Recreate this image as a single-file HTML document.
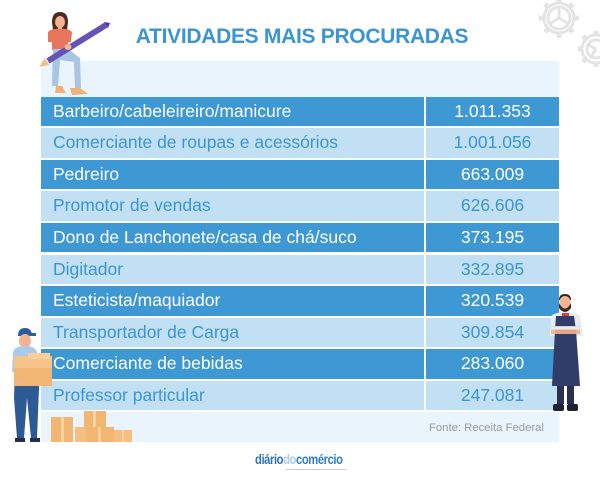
<!DOCTYPE html>
<html>
<head>
<meta charset="utf-8">
<style>
  html,body{margin:0;padding:0;background:#fff;}
  #c{position:relative;width:600px;height:480px;overflow:hidden;background:#fff;font-family:"Liberation Sans",Arial,sans-serif;}
  .title{position:absolute;left:0;width:604px;top:24px;text-align:center;font-weight:bold;font-size:21px;letter-spacing:-0.3px;color:#3a95d2;line-height:26px;}
  .pale{position:absolute;left:41px;width:518px;background:#eaf4fc;}
  .row{position:absolute;left:41px;width:518px;height:29.6px;}
  .row .l,.row .r{position:absolute;top:0;height:29.6px;line-height:29.6px;font-size:17.5px;}
  .row .l{left:0;width:383px;padding-left:12px;box-sizing:border-box;}
  .row .r{left:385px;width:133px;text-align:center;}
  .d .l,.d .r{background:#3d98d4;color:#fff;}
  .w .l,.w .r{background:#c1e0f4;color:#3d95d2;}
  .fonte{position:absolute;left:429px;top:420px;font-size:11.3px;color:#9a9a9a;line-height:16px;}
  .logo{position:absolute;left:255px;top:451px;font-weight:bold;font-size:14px;letter-spacing:-0.5px;line-height:16px;transform:scaleX(0.8);transform-origin:left top;white-space:nowrap;}
  svg{position:absolute;left:0;top:0;}
</style>
</head>
<body>
<div id="c">
  <svg width="600" height="480" viewBox="0 0 600 480">
    <!-- gears -->
    <g fill="none" stroke="#e4e4e4" stroke-width="3">
      <circle cx="559" cy="18" r="15"/>
      <circle cx="559" cy="18" r="11"/>
      <line x1="559" y1="18" x2="559" y2="7"/>
      <line x1="559" y1="18" x2="549" y2="24"/>
      <line x1="559" y1="18" x2="569" y2="24"/>
    </g>
    <g stroke="#e4e4e4" stroke-width="5">
      <line x1="559" y1="-2" x2="559" y2="2"/>
      <line x1="559" y1="34" x2="559" y2="38"/>
      <line x1="539" y1="18" x2="543" y2="18"/>
      <line x1="575" y1="18" x2="579" y2="18"/>
      <line x1="545" y1="4" x2="548" y2="7"/>
      <line x1="570" y1="29" x2="573" y2="32"/>
      <line x1="545" y1="32" x2="548" y2="29"/>
      <line x1="570" y1="7" x2="573" y2="4"/>
    </g>
    <g fill="none" stroke="#e4e4e4" stroke-width="3">
      <circle cx="596" cy="49" r="14"/>
      <circle cx="596" cy="49" r="9"/>
      <line x1="596" y1="49" x2="587" y2="44"/>
      <line x1="596" y1="49" x2="590" y2="58"/>
    </g>
    <g stroke="#e4e4e4" stroke-width="5">
      <line x1="578" y1="49" x2="582" y2="49"/>
      <line x1="596" y1="31" x2="596" y2="35"/>
      <line x1="596" y1="63" x2="596" y2="67"/>
      <line x1="583" y1="36" x2="586" y2="39"/>
      <line x1="583" y1="62" x2="586" y2="59"/>
    </g>
  </svg>

  <div class="title">ATIVIDADES MAIS PROCURADAS</div>

  <div class="pale" style="top:61px;height:35.5px;"></div>
  <div class="pale" style="top:412px;height:30px;"></div>

  <div class="row d" style="top:96.5px"><div class="l">Barbeiro/cabeleireiro/manicure</div><div class="r">1.011.353</div></div>
  <div class="row w" style="top:128.1px"><div class="l">Comerciante de roupas e acessórios</div><div class="r">1.001.056</div></div>
  <div class="row d" style="top:159.7px"><div class="l">Pedreiro</div><div class="r">663.009</div></div>
  <div class="row w" style="top:191.3px"><div class="l">Promotor de vendas</div><div class="r">626.606</div></div>
  <div class="row d" style="top:222.9px"><div class="l">Dono de Lanchonete/casa de chá/suco</div><div class="r">373.195</div></div>
  <div class="row w" style="top:254.5px"><div class="l">Digitador</div><div class="r">332.895</div></div>
  <div class="row d" style="top:286.1px"><div class="l">Esteticista/maquiador</div><div class="r">320.539</div></div>
  <div class="row w" style="top:317.7px"><div class="l">Transportador de Carga</div><div class="r">309.854</div></div>
  <div class="row d" style="top:349.3px"><div class="l">Comerciante de bebidas</div><div class="r">283.060</div></div>
  <div class="row w" style="top:380.9px"><div class="l">Professor particular</div><div class="r">247.081</div></div>

  <div class="fonte">Fonte: Receita Federal</div>

  <div class="logo"><span style="color:#2f72b8">diário</span><span style="color:#a9d0ee">do</span><span style="color:#2f7fc6">comércio</span></div>
  <div style="position:absolute;left:286px;top:469px;width:60px;height:1px;background:#c8c8c8;"></div>

  <svg width="600" height="480" viewBox="0 0 600 480">
    <!-- woman with pencil -->
    <path d="M52 22 Q52 12 60 12 Q68 12 68 22 L67 30 L53 30 Z" fill="#4a2a22"/>
    <ellipse cx="60" cy="22" rx="5" ry="6" fill="#f2b48e"/>
    <rect x="58" y="27" width="4" height="3" fill="#f2b48e"/>
    <path d="M48 32 Q52 28 60 29 Q68 28 72 32 L71 42 L68 42 L68 50 L52 50 L52 42 L48 42 Z" fill="#e8745b"/>
    <path d="M53 49 L68 49 L80 58 L81 88 L75 89 L74 62 L60 60 L58 86 L52 86 Z" fill="#a8c5e3"/>
    <path d="M70 88 L80 88 L88 94 L72 95 Z" fill="#f0b078"/>
    <path d="M56 86 L62 86 L66 93 L55 93 Z" fill="#f0b078"/>
    <line x1="48" y1="61" x2="106" y2="25" stroke="#6652b6" stroke-width="6" stroke-linecap="butt"/>
    <polygon points="45,58 49,65 39,67" fill="#edc38c"/>
    <polygon points="104,22 108,28 110,23" fill="#4b3c99"/>
    <ellipse cx="68" cy="47" rx="3.5" ry="3" fill="#f2b48e"/>

    <!-- worker with box -->
    <path d="M18 336 Q18 328 25 328 Q32 328 32 336 Z" fill="#2b5c9e"/>
    <rect x="30" y="333" width="6" height="3" fill="#2b5c9e"/>
    <ellipse cx="25" cy="341" rx="6" ry="7" fill="#f2b48e"/>
    <path d="M13 352 Q15 346 25 346 Q35 346 37 352 L38 372 L12 372 Z" fill="#a9cbe9"/>
    <path d="M15 368 L38 368 L39 388 L37 438 L31 438 L27 398 L24 438 L17 438 L14 398 Z" fill="#2d5a94"/>
    <rect x="15" y="438" width="10" height="4" fill="#1f2f4f"/>
    <rect x="30" y="438" width="10" height="4" fill="#1f2f4f"/>
    <rect x="14" y="356" width="38" height="30" fill="#f2b673"/>
    <rect x="14" y="356" width="38" height="12" fill="#f6c48a"/>
    <rect x="28" y="353" width="22" height="6" fill="#f7ce9c"/>
    <ellipse cx="20" cy="382" rx="4" ry="3" fill="#f2b48e"/>

    <!-- boxes bottom -->
    <rect x="51" y="417" width="22" height="25" fill="#f2b673"/>
    <rect x="61" y="417" width="3" height="25" fill="#f8d3a0"/>
    <rect x="75" y="427" width="12" height="15" fill="#f4bf80"/>
    <rect x="84" y="411" width="22" height="16" fill="#f2b673"/>
    <rect x="93" y="411" width="3" height="16" fill="#f8d3a0"/>
    <rect x="86" y="427" width="28" height="15" fill="#f2b673"/>
    <rect x="98" y="427" width="3" height="15" fill="#f8d3a0"/>
    <rect x="114" y="430" width="18" height="12" fill="#f4bf80"/>
    <rect x="122" y="430" width="2" height="12" fill="#f8d3a0"/>

    <!-- chef -->
    <path d="M559 300 Q559 294 565 294 Q571 294 571 300 Z" fill="#2b2624"/>
    <ellipse cx="565" cy="302" rx="5.5" ry="6" fill="#f2b48e"/>
    <path d="M559 303 Q565 314 571 303 L571 308 Q565 316 559 308 Z" fill="#3a2c25"/>
    <path d="M551 316 Q556 312 565 312 Q574 312 580 316 L583 336 L550 336 Z" fill="#e8ecef"/>
    <rect x="562" y="313" width="7" height="3" fill="#d9423c"/>
    <path d="M556 316 L574 316 L576 330 L580 386 L552 386 L555 330 Z" fill="#2f3d68"/>
    <path d="M551 326 L580 326 L580 334 L551 334 Z" fill="#f2b48e" opacity="0.9"/>
    <path d="M551 328 L580 328" stroke="#e8ecef" stroke-width="3"/>
    <rect x="557" y="386" width="7" height="18" fill="#2a3150"/>
    <rect x="567" y="386" width="7" height="18" fill="#2a3150"/>
    <rect x="553" y="404" width="11" height="7" rx="2" fill="#1e2233"/>
    <rect x="567" y="404" width="11" height="7" rx="2" fill="#1e2233"/>
  </svg>
</div>
</body>
</html>
